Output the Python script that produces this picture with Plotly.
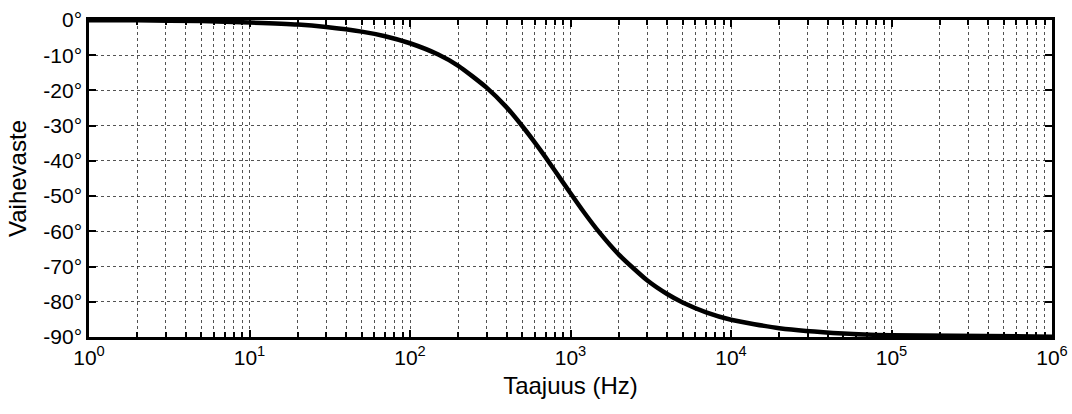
import plotly.graph_objects as go

# Frequency (Hz) and phase (degrees)
freq_hz = [1, 2, 5, 10, 20, 30, 50, 70, 100, 150, 200, 300, 400, 500, 600, 700, 800,
           1000, 1200, 1500, 2000, 3000, 4000, 5000, 7000, 10000, 20000, 50000, 100000, 1000000]
phase_deg = [-0.1, -0.1, -0.3, -0.7, -1.3, -2.0, -3.3, -4.6, -6.6, -9.8, -13.0, -19.2, -24.8,
             -30.1, -34.8, -39.0, -42.8, -49.2, -54.3, -60.1, -66.6, -73.9, -77.8, -80.2,
             -83.0, -85.1, -87.5, -89.0, -89.5, -89.9]

x_tick_vals = [1, 10, 100, 1000, 10000, 100000, 1000000]
x_tick_text = ["10<sup>0</sup>", "10<sup>1</sup>", "10<sup>2</sup>", "10<sup>3</sup>",
               "10<sup>4</sup>", "10<sup>5</sup>", "10<sup>6</sup>"]
y_tick_vals = [0, -10, -20, -30, -40, -50, -60, -70, -80, -90]
y_tick_text = ["0°", "-10°", "-20°", "-30°", "-40°", "-50°", "-60°", "-70°", "-80°", "-90°"]
x_title = "Taajuus (Hz)"
y_title = "Vaihevaste"

minor_vals = [m * 10 ** e for e in range(6) for m in range(2, 10)]

fig = go.Figure()
fig.add_trace(go.Scatter(x=freq_hz, y=phase_deg, mode="lines",
                         line=dict(color="black", width=4.5, shape="spline", smoothing=0.6),
                         showlegend=False, hoverinfo="skip"))

font_family = "Liberation Sans, Arial, sans-serif"
grid_col = "rgba(40,40,40,0.8)"
fig.update_layout(
    width=1072, height=414,
    margin=dict(l=89, r=20, t=20, b=77),
    paper_bgcolor="white", plot_bgcolor="white",
    font=dict(family=font_family, size=20, color="black"),
)
fig.update_xaxes(
    type="log", range=[0, 6], automargin=False, ticklabeloverflow="allow",
    tickmode="array", tickvals=x_tick_vals, ticktext=x_tick_text,
    ticks="inside", ticklen=7, tickwidth=1.5, tickcolor="black",
    showline=True, linecolor="black", linewidth=2.5, mirror="allticks",
    showgrid=True, gridcolor=grid_col, griddash="dot", gridwidth=1,
    minor=dict(tickmode="array", tickvals=minor_vals, ticks="inside", ticklen=5,
               tickcolor="black", showgrid=True, gridcolor=grid_col,
               griddash="dot", gridwidth=1),
    title=dict(text=x_title, font=dict(size=24), standoff=10),
    tickfont=dict(size=21),
    zeroline=False,
)
fig.update_yaxes(
    range=[-90, 0], automargin=False,
    tickmode="array", tickvals=y_tick_vals, ticktext=y_tick_text,
    ticks="inside", ticklen=7, tickwidth=1.5, tickcolor="black",
    showline=True, linecolor="black", linewidth=2.5, mirror="allticks",
    showgrid=True, gridcolor=grid_col, griddash="dot", gridwidth=1,
    title=dict(text=y_title, font=dict(size=24), standoff=10),
    tickfont=dict(size=21),
    zeroline=False,
)

fig.write_html("out.html", config={"displayModeBar": False},
               post_script="document.body.style.margin='0';document.body.style.overflow='hidden';")
